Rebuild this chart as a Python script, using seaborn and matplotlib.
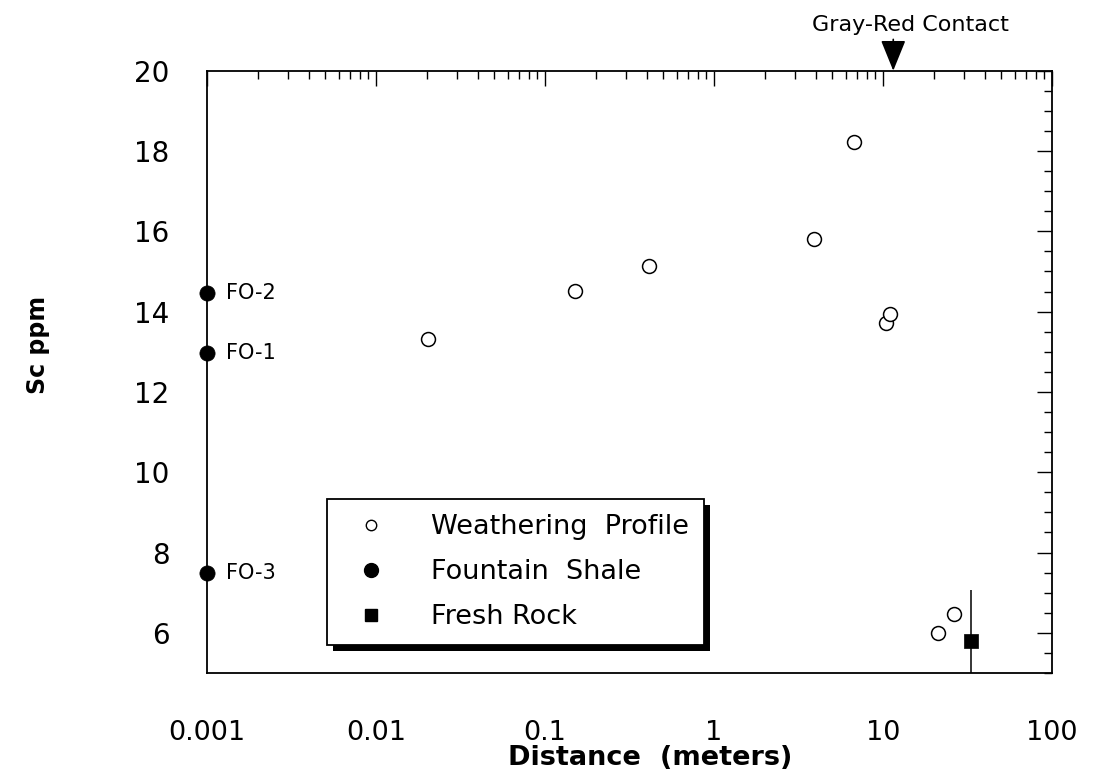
import matplotlib
matplotlib.use('Agg')
import matplotlib.pyplot as plt
import seaborn as sns
import pandas as pd
from matplotlib.ticker import FixedLocator, FixedFormatter, LogLocator, MultipleLocator, NullFormatter
from matplotlib.lines import Line2D
from matplotlib.patches import Rectangle
from matplotlib.transforms import IdentityTransform

# ---- data ----
weather_x = [0.0203, 0.151, 0.412, 3.91, 6.73, 10.4, 11.0, 21.1, 26.3]
weather_y = [13.31, 14.51, 15.13, 15.82, 18.22, 13.72, 13.95, 5.99, 6.47]
shale_x = [0.001, 0.001, 0.001]
shale_y = [14.46, 12.96, 7.50]
shale_labels = ['FO-2', 'FO-1', 'FO-3']
fresh_x = [33.0]
fresh_y = [5.79]
fresh_err = [1.28]
contact_x = 11.5
contact_label = 'Gray-Red Contact'
xtick_vals = [0.001, 0.01, 0.1, 1, 10, 100]
xtick_labels = ['0.001', '0.01', '0.1', '1', '10', '100']
ytick_vals = [6, 8, 10, 12, 14, 16, 18, 20]
legend_labels = ['Weathering  Profile', 'Fountain  Shale', 'Fresh Rock']

sns.set_theme(style='white')
plt.rcParams['font.family'] = ['DejaVu Sans']
plt.rcParams.update({'text.color': 'black', 'axes.labelcolor': 'black',
                     'xtick.color': 'black', 'ytick.color': 'black'})

W, H = 1094, 776
fig = plt.figure(figsize=(W / 100, H / 100), dpi=100)
ax = fig.add_axes([207 / W, 1 - 673 / H, 845 / W, 602.3 / H])

df_w = pd.DataFrame({'x': weather_x, 'y': weather_y})
df_s = pd.DataFrame({'x': shale_x, 'y': shale_y})
df_f = pd.DataFrame({'x': fresh_x, 'y': fresh_y})

sns.scatterplot(data=df_w, x='x', y='y', ax=ax, marker='o', s=100,
                color='white', edgecolor='black', linewidth=1.1, zorder=3, legend=False)
sns.scatterplot(data=df_s, x='x', y='y', ax=ax, marker='o', s=120,
                color='black', edgecolor='black', linewidth=0.5, zorder=4,
                legend=False, clip_on=False)
ax.errorbar(fresh_x, fresh_y, yerr=fresh_err, fmt='none', ecolor='black',
            elinewidth=1.1, capsize=0, zorder=2)
sns.scatterplot(data=df_f, x='x', y='y', ax=ax, marker='s', s=90,
                color='black', edgecolor='black', linewidth=0.5, zorder=4, legend=False)

for lab, xv, yv in zip(shale_labels, shale_x, shale_y):
    ax.annotate(lab, (xv, yv), xytext=(14, 0), textcoords='offset points',
                va='center', ha='left', fontsize=15, color='black')

ax.set_xscale('log')
ax.set_xlim(0.001, 100)
ax.set_ylim(5, 20)

ax.xaxis.set_major_locator(FixedLocator(xtick_vals))
ax.xaxis.set_major_formatter(FixedFormatter(xtick_labels))
ax.xaxis.set_minor_locator(LogLocator(base=10, subs=range(2, 10), numticks=50))
ax.xaxis.set_minor_formatter(NullFormatter())
ax.yaxis.set_major_locator(FixedLocator(ytick_vals))
ax.yaxis.set_minor_locator(MultipleLocator(0.5))

ax.tick_params(axis='both', which='both', direction='in', top=True, right=True,
               colors='black', width=1.0)
ax.tick_params(axis='both', which='major', length=11)
ax.tick_params(axis='both', which='minor', length=5.5)
ax.tick_params(axis='x', which='major', labelsize=19.5, pad=34)
ax.tick_params(axis='y', which='major', labelsize=20, pad=27)

for sp in ax.spines.values():
    sp.set_color('black')
    sp.set_linewidth(1.3)

ax.set_xlabel('Distance  (meters)', fontsize=19.5, fontweight='bold')
ax.set_ylabel('Sc ppm', fontsize=17, fontweight='bold')
ax.xaxis.set_label_coords(0.524, -0.12)
ax.yaxis.set_label_coords(-0.186, 0.545)

# Gray-Red contact arrow
ax.annotate('', xy=(contact_x, 1.0), xycoords=ax.get_xaxis_transform(),
            xytext=(contact_x, 1.052), textcoords=ax.get_xaxis_transform(),
            arrowprops=dict(arrowstyle='-|>,head_length=1.6,head_width=0.65',
                            color='black', lw=1.2, shrinkA=0, shrinkB=0),
            annotation_clip=False)
fig.text(910 / W, 1 - 25 / H, contact_label, ha='center', va='center', fontsize=16)

# legend
handles = [
    Line2D([], [], ls='', marker='o', mfc='white', mec='black', ms=7.5, mew=1.0),
    Line2D([], [], ls='', marker='o', mfc='black', mec='black', ms=10),
    Line2D([], [], ls='', marker='s', mfc='black', mec='black', ms=8),
]
leg = ax.legend(handles, legend_labels, loc='lower left',
                bbox_to_anchor=(0.142, 0.0465), borderaxespad=0,
                fontsize=19.5, frameon=True, fancybox=False, framealpha=1,
                edgecolor='black', handlelength=2.15, handletextpad=1.15,
                labelspacing=0.7, borderpad=0.55)
leg.get_frame().set_linewidth(1.3)
leg.set_zorder(6)

fig.canvas.draw()
bb = leg.get_frame().get_window_extent(fig.canvas.get_renderer())
sh = Rectangle((bb.x0 + 6, bb.y0 - 6), bb.width, bb.height, transform=IdentityTransform(),
               facecolor='black', edgecolor='none', zorder=5.9, clip_on=False)
ax.add_artist(sh)

fig.savefig('out.png', dpi=100, facecolor='white')
